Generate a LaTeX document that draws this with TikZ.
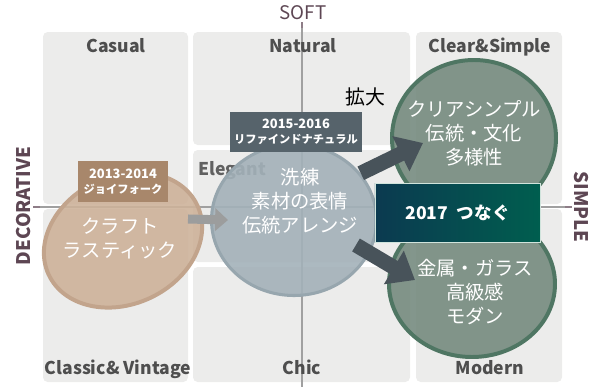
\documentclass[tikz,border=0pt]{standalone}
\usepackage{fontspec}
\setmainfont{Noto Sans CJK JP}
\usetikzlibrary{shapes.geometric,arrows.meta,calc}
\definecolor{panelgray}{HTML}{ECECEB}
\definecolor{paneltxt}{HTML}{4E4E4E}
\definecolor{axiscol}{HTML}{5D4653}
\definecolor{axisline}{HTML}{A0A0A0}
\definecolor{tanfill}{HTML}{CDB29A}
\definecolor{tanedge}{HTML}{C2A48C}
\definecolor{tanbox}{HTML}{A8876B}
\definecolor{midfill}{HTML}{A3B1B9}
\definecolor{midedge}{HTML}{97A6AE}
\definecolor{midbox}{HTML}{56636B}
\definecolor{greenfill}{HTML}{768B7F}
\definecolor{greenedge}{HTML}{4F7663}
\definecolor{arrowdark}{HTML}{48535A}
\definecolor{arrowlight}{HTML}{9C9D9D}
\definecolor{boxleft}{HTML}{0B3A50}
\definecolor{boxright}{HTML}{005E4F}
\tikzset{
  panel/.style={fill=panelgray,draw=none,rounded corners=4pt},
  paneltext/.style={text=paneltxt,font=\fontsize{15}{18}\selectfont\bfseries,anchor=base},
  axistext/.style={text=axiscol,font=\fontsize{16}{19}\selectfont},
  bubble/.style={ellipse,draw,line width=3.4pt,fill opacity=0.9,inner sep=0pt},
  bubbletext/.style={text=white,align=center,font=\fontsize{16.5}{20.5}\selectfont},
  yearbox/.style={text=white,align=center,inner sep=0pt,font=\fontsize{9.6}{12.8}\selectfont\bfseries},
  bigarrow/.style={draw=arrowdark,line width=12.8pt,-{Triangle[length=21pt,width=32pt]}},
  smallarrow/.style={draw=arrowlight,line width=7.7pt,-{Triangle[length=11pt,width=19pt]}}
}
\begin{document}
\begin{tikzpicture}[x=0.03cm,y=-0.03cm]
\useasboundingbox(0,0)rectangle(604,387);
%panels
\fill[panel](43,32)rectangle(188,204); %casual
\fill[panel](43,209)rectangle(188,382); %classic
\fill[panel](193,32)rectangle(410,145); %natural
\fill[panel](193,150)rectangle(410,262); %elegant
\fill[panel](193,267)rectangle(410,382); %chic
\fill[panel](416,32)rectangle(562,204); %clear
\fill[panel](416,209)rectangle(562,382); %modern
%axes
\node[axistext](soft)at(303,13){SOFT};
\node[axistext,font=\fontsize{16}{19}\selectfont\bfseries,rotate=90](deco)at(24,206){DECORATIVE};
\node[axistext,font=\fontsize{16}{19}\selectfont\bfseries,rotate=-90](simple)at(581,207){SIMPLE};
\coordinate(ytop)at(302,22);
\coordinate(ybot)at(302,387);
\coordinate(xleft)at(33,207);
\coordinate(xright)at(572,207);
\draw[axisline,line width=0.9pt](ytop)--(ybot);
\draw[axisline,line width=0.9pt](xleft)--(xright);
\draw[axiscol!70,line width=0.9pt](ytop)--++(0,6);
\draw[axiscol!70,line width=0.9pt](xleft)--++(7,0);
\draw[axiscol!70,line width=0.9pt](xright)--++(-7,0);
%quadrant labels
\node[paneltext](casual)at(116,52){Casual};
\node[paneltext](natural)at(303,52){Natural};
\node[paneltext](clear)at(490,52){Clear\&Simple};
\node[paneltext,text=paneltxt!90](elegant)at(232,175){Elegant};
\node[paneltext](classic)at(118,374){Classic\& Vintage};
\node[paneltext](chic)at(302,374){Chic};
\node[paneltext](modern)at(490,374){Modern};
%bubbles
\node[bubble,fill=tanfill,draw=tanedge,minimum width=4.92cm,minimum height=3.84cm,rotate=25](craft)at(123,240){};
\node[bubble,fill=midfill,draw=midedge,line width=2.6pt,minimum width=4.95cm,minimum height=4.53cm](mid)at(294,220){};
\node[bubble,fill=greenfill,draw=greenedge,minimum width=4.92cm,minimum height=4.68cm](cs)at(474,138){};
\node[bubble,fill=greenfill,draw=greenedge,minimum width=4.98cm,minimum height=4.38cm](md)at(472,284){};
\node[bubbletext](crafttxt)at(120,238){クラフト\\ラスティック};
\node[bubbletext](midtxt)at(300,201){洗練\\素材の表情\\伝統アレンジ};
\node[bubbletext](cstxt)at(474,133){クリアシンプル\\伝統・文化\\多様性};
\node[bubbletext](mdtxt)at(475,292){金属・ガラス\\高級感\\モダン};
%year boxes
\node[yearbox,fill=tanbox,minimum width=2.7cm,minimum height=1.23cm](y13)at(123,181.5){{\fontsize{11}{12.8}\selectfont 2013-2014}\\ジョイフォーク};
\node[yearbox,fill=midbox,minimum width=3.96cm,minimum height=1.2cm](y15)at(296,132){{\fontsize{11}{12.8}\selectfont 2015-2016}\\リファインドナチュラル};
%arrows
\coordinate(uptip)at($(cs.center)+(-51,5)$);
\coordinate(lowtail)at($(mid.center)+(62,25)$);
\coordinate(lowtip)at($(md.center)+(-57,-4)$);
\coordinate(smalltail)at($(craft.center)+(65,-21)$);
\coordinate(smalltip)at($(mid.center)+(-66,0)$);
\draw[smallarrow](smalltail)--(smalltip);
\draw[bigarrow](mid.35)--(uptip);
\draw[bigarrow](lowtail)--(lowtip);
\node[font=\fontsize{17}{20}\selectfont](kakudai)at(365,97){拡大};
\node[draw={rgb,255:red,208;green,228;blue,220},line width=0.7pt,left color=boxleft,right color=boxright,text=white,
  minimum width=4.95cm,minimum height=1.77cm,font=\fontsize{15}{18}\selectfont\bfseries](tsunagu)at(457.5,212.5){2017\enspace つなぐ};
\end{tikzpicture}
\end{document}
